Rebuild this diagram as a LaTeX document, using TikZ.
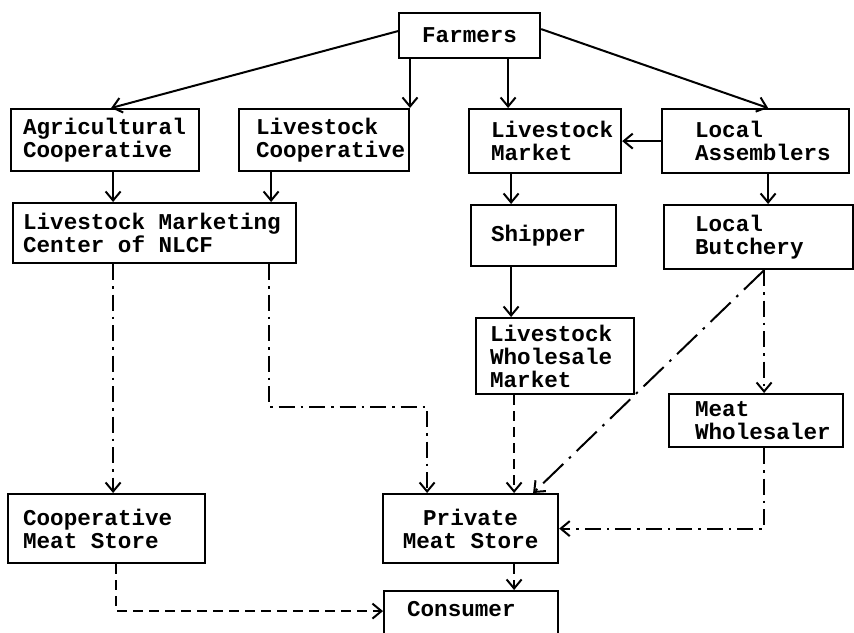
\documentclass[tikz,border=0pt]{standalone}
\usepackage{fontspec}
\setmonofont{Liberation Mono}
\usetikzlibrary{arrows.meta,calc}
% typewriter labels; \wsp is one full character cell between words
\newcommand{\boxfont}{\fontsize{22.6}{23}\ttfamily\bfseries}
\newcommand{\wsp}{\hspace*{13.56pt}}
\begin{document}
\begin{tikzpicture}[x=1pt,y=-1pt,
  box/.style={draw, line width=2.2pt, anchor=north west, inner sep=0pt, align=left,
    font=\boxfont},
  link/.style={line width=2pt, -{Straight Barb[length=9pt,width=15pt]}},
  dashdotline/.style={link, dash pattern=on 16pt off 6pt on 2.5pt off 6pt},
  longdashdot/.style={link, dash pattern=on 28pt off 8pt on 2.5pt off 8pt},
  dashline/.style={link, dash pattern=on 10pt off 6pt},
]
\useasboundingbox (0,0) rectangle (854,632);

% boxes
\node[box, minimum width=141pt, minimum height=45pt, text width=121pt, align=center] (farm) at (398,12) {Farmers};
\node[box, minimum width=188pt, minimum height=62pt, text width=164pt] (agri) at (10,108) {Agricultural\\Cooperative};
\node[box, minimum width=170pt, minimum height=62pt, text width=136pt] (lcoop) at (238,108) {Livestock\\Cooperative};
\node[box, minimum width=283pt, minimum height=60pt, text width=263pt] (lmc) at (12,202) {Livestock\wsp Marketing\\Center\wsp of\wsp NLCF};
\node[box, minimum width=152pt, minimum height=64pt, text width=108pt] (lmkt) at (468,108) {Livestock\\Market};
\node[box, minimum width=187pt, minimum height=64pt, text width=121pt] (lasm) at (661,108) {Local\\Assemblers};
\node[box, minimum width=145pt, minimum height=61pt, text width=105pt] (ship) at (470,204) {Shipper};
\node[box, minimum width=189pt, minimum height=64pt, text width=127pt] (butch) at (663,204) {Local\\Butchery};
\node[box, minimum width=158pt, minimum height=76pt, text width=130pt] (lwm) at (475,317) {Livestock\\Wholesale\\Market};
\node[box, minimum width=174pt, minimum height=53pt, text width=122pt] (mwh) at (668,393) {Meat\\Wholesaler};
\node[box, minimum width=175pt, minimum height=69pt, text width=155pt, align=center] (pms) at (382,493) {Private\\Meat\wsp Store};
\node[box, minimum width=197pt, minimum height=69pt, text width=167pt] (cms) at (7,493) {Cooperative\\Meat\wsp Store};
\node[box, minimum width=174pt, minimum height=60pt, text width=128pt, text height=13pt, text depth=23pt] (cons) at (383,590) {Consumer};

% solid flows
\draw[link] ([yshift=4.5pt]farm.west) -- ([xshift=6pt]agri.north);
\coordinate (p1) at ([xshift=12pt]farm.south west);
\draw[link] (p1) -- (p1 |- lcoop.north);
\coordinate (p2) at ([xshift=-37pt]lmkt.north);
\draw[link] (p2 |- farm.south) -- (p2);
\draw[link] ([yshift=6.5pt]farm.east) -- ([xshift=12.5pt]lasm.north);
\draw[link] (lasm.west) -- (lmkt.east);
\coordinate (p3) at ([xshift=8pt]agri.south);
\draw[link] (p3) -- (p3 |- lmc.north);
\coordinate (p4) at ([xshift=-53pt]lcoop.south);
\draw[link] (p4) -- (p4 |- lmc.north);
\coordinate (p5) at ([xshift=-32.5pt]ship.north);
\draw[link] (p5 |- lmkt.south) -- (p5);
\coordinate (p6) at ([xshift=9.5pt]butch.north);
\draw[link] (p6 |- lasm.south) -- (p6);
\coordinate (p7) at ([xshift=-32.5pt]ship.south);
\draw[link] (p7) -- (p7 |- lwm.north);

% meat flows
\coordinate (p8) at ([xshift=-41.5pt]lmc.south);
\draw[dashdotline] (p8) -- (p8 |- cms.north);
\coordinate (p9) at ([xshift=114.5pt]lmc.south);
\coordinate (p9b) at ($(p9)+(0,143)$);
\coordinate (p10) at ([xshift=-43.5pt]pms.north);
\draw[dashdotline] (p9) -- (p9b) -| (p10);
\coordinate (p11) at ([xshift=-41pt]lwm.south);
\draw[dashline] (p11) -- (p11 |- pms.north);
\coordinate (p12) at ([xshift=5.5pt]butch.south);
\draw[longdashdot] (p12) -- ([xshift=62.5pt]pms.north);
\draw[dashdotline] (p12) -- (p12 |- mwh.north);
\coordinate (p13) at ([xshift=8pt]mwh.south);
\draw[dashdotline] (p13) |- (pms.east);
\coordinate (p14) at ([xshift=43.5pt]pms.south);
\draw[dashline] (p14) -- (p14 |- cons.north);
\coordinate (p15) at ([xshift=9.5pt]cms.south);
\coordinate (p16) at ([yshift=10pt]cons.west);
\draw[dashline] (p15) |- (p16);
\end{tikzpicture}
\end{document}
